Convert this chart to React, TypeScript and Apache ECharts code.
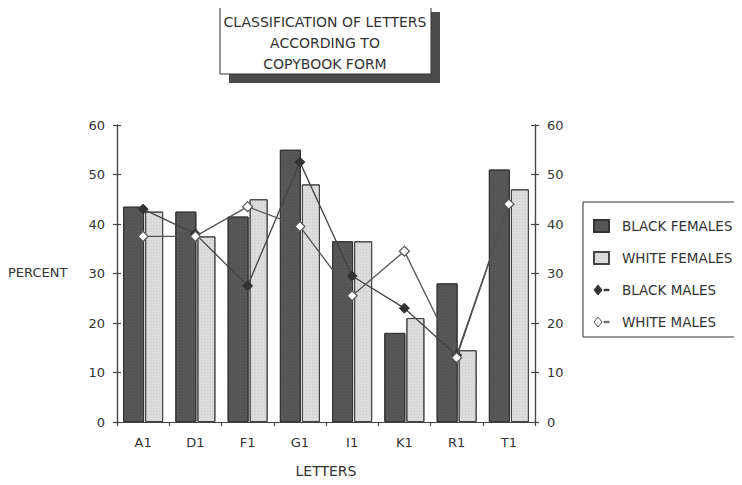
import React, { useEffect, useRef } from "react";
import * as echarts from "echarts";

const categories = ["A1", "D1", "F1", "G1", "I1", "K1", "R1", "T1"];
const blackFemales = [43.5, 42.5, 41.5, 55, 36.5, 18, 28, 51];
const whiteFemales = [42.5, 37.5, 45, 48, 36.5, 21, 14.5, 47];
const blackMales = [43, 38, 27.5, 52.5, 29.5, 23, 13.5, 44];
const whiteMales = [37.5, 37.5, 43.5, 39.5, 25.5, 34.5, 13, 44];
const titleLines = ["CLASSIFICATION OF LETTERS", "ACCORDING TO", "COPYBOOK FORM"];

const FONT = "DejaVu Sans";
const TXT = "#333";
const diamondDash = "path://M0,5 L4,0 L8,5 L4,10 Z M10,4.3 L15,4.3 L15,5.7 L10,5.7 Z";

export default function App() {
  const ref = useRef<HTMLDivElement>(null);
  useEffect(() => {
    if (!ref.current) return;
    const chart = echarts.init(ref.current, null, { renderer: "svg" });
    const axisCommon = {
      type: "value",
      min: 0,
      max: 60,
      interval: 10,
      splitLine: { show: false },
      axisLine: { show: true, lineStyle: { color: "#444", width: 1.2 } },
      axisTick: { show: true, length: 4, lineStyle: { color: "#444", width: 1.2 } },
      axisLabel: { color: TXT, fontFamily: FONT, fontSize: 13, margin: 12 },
    };
    chart.setOption({
      animation: false,
      backgroundColor: "#fff",
      grid: { left: 117, right: 207, top: 125, bottom: 63 },
      xAxis: {
        type: "category",
        data: categories,
        boundaryGap: true,
        axisLine: { lineStyle: { color: "#444", width: 1.2 } },
        axisTick: { show: true, length: 4, alignWithLabel: false, lineStyle: { color: "#444", width: 1.2 } },
        axisLabel: { color: TXT, fontFamily: FONT, fontSize: 13, margin: 14 },
        name: "LETTERS",
        nameLocation: "middle",
        nameGap: 42,
        nameTextStyle: { color: TXT, fontFamily: FONT, fontSize: 14 },
      },
      yAxis: [
        { ...axisCommon, position: "left" },
        { ...axisCommon, position: "right" },
        { ...axisCommon, position: "left", axisLabel: { show: false }, axisTick: { show: true, inside: true, length: 4, lineStyle: { color: "#444", width: 1.2 } } },
        { ...axisCommon, position: "right", axisLabel: { show: false }, axisTick: { show: true, inside: true, length: 4, lineStyle: { color: "#444", width: 1.2 } } },
      ],
      legend: {
        orient: "vertical",
        left: 593,
        top: 219,
        itemGap: 18,
        itemWidth: 15,
        itemHeight: 12,
        padding: 0,
        textStyle: { color: TXT, fontFamily: FONT, fontSize: 13.5, padding: [0, 0, 0, 8] },
        data: [
          { name: "BLACK FEMALES", icon: "rect" },
          { name: "WHITE FEMALES", icon: "rect" },
          { name: "BLACK MALES", icon: diamondDash, itemStyle: { color: "#333", borderColor: "#333", borderWidth: 1, decal: "none" } },
          { name: "WHITE MALES", icon: diamondDash, itemStyle: { color: "#fff", borderColor: "#555", borderWidth: 1, decal: "none" } },
        ],
      },
      graphic: [
        { type: "rect", shape: { x: 229, y: 12, width: 211, height: 71 }, style: { fill: "#4a4a4a" } },
        { type: "rect", shape: { x: 220, y: 3, width: 211, height: 71 }, style: { fill: "#fff", stroke: "#333", lineWidth: 1 } },
        ...titleLines.map((t, i) => ({
          type: "text",
          x: 325,
          y: 22 + i * 21,
          style: { text: t, fill: TXT, font: `14px "${FONT}"`, textAlign: "center", textVerticalAlign: "middle" },
        })),
        { type: "text", x: 8, y: 272, style: { text: "PERCENT", fill: TXT, font: `13px "${FONT}"`, textAlign: "left", textVerticalAlign: "middle" } },
        { type: "rect", shape: { x: 583, y: 202, width: 158, height: 135 }, style: { fill: "none", stroke: "#333", lineWidth: 1 } },
      ],
      series: [
        {
          name: "BLACK FEMALES",
          type: "bar",
          data: blackFemales,
          barWidth: 21,
          barGap: "5%",
          itemStyle: {
            color: "#555",
            borderColor: "#333",
            borderWidth: 1,
            decal: { symbol: "rect", symbolSize: 0.6, color: "rgba(255,255,255,0.18)", dashArrayX: [1, 2], dashArrayY: [1, 2], rotation: 0 },
          },
        },
        {
          name: "WHITE FEMALES",
          type: "bar",
          data: whiteFemales,
          barWidth: 18,
          itemStyle: {
            color: "#dcdcdc",
            borderColor: "#444",
            borderWidth: 1,
            decal: { symbol: "rect", symbolSize: 0.6, color: "rgba(0,0,0,0.22)", dashArrayX: [1, 2], dashArrayY: [1, 2], rotation: 0 },
          },
        },
        {
          name: "BLACK MALES",
          type: "line",
          data: blackMales,
          symbol: "diamond",
          symbolSize: 10,
          lineStyle: { color: "#444", width: 1.3 },
          itemStyle: { color: "#333", borderColor: "#333", borderWidth: 1 },
          z: 5,
        },
        {
          name: "WHITE MALES",
          type: "line",
          data: whiteMales,
          symbol: "diamond",
          symbolSize: 10,
          lineStyle: { color: "#555", width: 1.3 },
          itemStyle: { color: "#fff", borderColor: "#555", borderWidth: 1.2 },
          z: 6,
        },
      ],
    });
    return () => chart.dispose();
  }, []);
  return <div ref={ref} style={{ width: 742, height: 485, margin: -8 }} />;
}
